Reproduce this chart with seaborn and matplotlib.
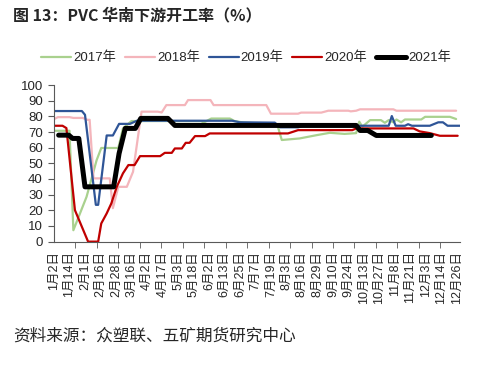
import numpy as np
import pandas as pd
import matplotlib
matplotlib.use("Agg")
import matplotlib.pyplot as plt
import seaborn as sns

# x = weeks since 2 Jan
tick_labels = ["1月2日", "1月14日", "2月1日", "2月16日", "2月28日", "3月16日", "4月2日",
               "4月17日", "5月3日", "5月18日", "6月2日", "6月13日", "6月25日", "7月7日",
               "7月19日", "8月3日", "8月16日", "8月29日", "9月10日", "9月24日", "10月13日",
               "10月27日", "11月8日", "11月21日", "12月3日", "12月14日", "12月26日"]

x_2017 = [0, 2.0, 2.5, 4.2, 5.5, 6.1, 8.3, 8.9, 10.0, 19.0, 19.3, 20.3, 22.7, 23.3, 24.5, 28.8,
          29.4, 31.7, 33.9, 35.6, 37.5, 39.0, 39.4, 39.8, 40.8, 42.2, 42.7, 43.2, 43.8, 44.2,
          44.8, 45.3, 47.4, 47.9, 51.1, 51.9]
y_2017 = [70.8, 70.8, 7.3, 28.6, 52.0, 59.8, 59.8, 72.3, 77.0, 77.0, 76.0, 78.6, 78.6, 77.0, 76.0, 75.0,
          64.9, 65.9, 68.0, 69.5, 68.8, 69.3, 76.6, 73.4, 77.6, 77.6, 75.9, 77.6, 76.2, 78.0,
          76.2, 78.0, 78.0, 79.7, 79.7, 78.3]

x_2018 = [0, 0.5, 2.0, 2.5, 3.7, 4.3, 4.6, 5.1, 7.2, 7.6, 8.3, 9.4, 10.2, 11.3, 13.4, 13.9, 14.5,
          16.9, 17.3, 20.2, 20.6, 27.4, 28.0, 31.5, 31.9, 34.5, 35.4, 38.0, 38.3, 39.0, 39.5,
          43.8, 44.2, 51.9]
y_2018 = [78.2, 79.5, 79.5, 79.0, 79.0, 77.8, 77.8, 40.4, 40.4, 21.4, 35.0, 35.0, 44.6, 83.0, 83.0, 82.5, 87.2,
          87.2, 90.4, 90.4, 87.2, 87.2, 81.7, 81.7, 82.4, 82.4, 83.6, 83.6, 83.2, 83.6, 84.5,
          84.5, 83.6, 83.6]

x_2019 = [0, 3.6, 4.0, 5.4, 5.7, 6.8, 7.6, 8.4, 9.8, 10.7, 23.0, 24.0, 28.5, 29.2, 31.5, 32.2,
          43.2, 43.6, 44.1, 45.3, 45.7, 46.2, 48.5, 49.6, 50.2, 50.8, 52.4]
y_2019 = [83.4, 83.4, 81.0, 23.5, 23.5, 67.8, 67.8, 75.2, 75.2, 77.2, 77.2, 76.2, 76.0, 73.0, 73.0, 74.0,
          74.0, 80.2, 74.0, 74.0, 75.0, 74.0, 74.0, 76.2, 76.2, 74.0, 74.0]

x_2020 = [0, 1.1, 1.6, 2.7, 4.4, 5.7, 6.1, 6.8, 7.4, 8.1, 8.9, 9.6, 10.4, 11.1, 13.7, 14.3, 15.2,
          15.6, 16.5, 17.0, 17.5, 18.2, 19.5, 20.1, 30.2, 31.5, 38.5, 39.0, 46.4, 47.2, 48.5,
          49.8, 52.1]
y_2020 = [74.0, 74.0, 72.5, 20.1, 0.0, 0.0, 11.6, 18.0, 24.4, 35.0, 43.6, 48.9, 48.9, 54.6, 54.6, 56.7, 56.7,
          59.5, 59.5, 63.1, 63.1, 67.4, 67.4, 69.1, 69.1, 71.2, 71.2, 72.3, 72.3, 70.4, 69.3,
          67.6, 67.6]

x_2021 = [0.6, 1.9, 2.4, 3.2, 4.0, 7.7, 8.4, 9.2, 10.5, 11.2, 14.7, 15.6, 39.0, 39.5, 40.5, 41.6, 48.7]
y_2021 = [68.0, 68.0, 65.9, 65.9, 35.0, 35.0, 56.3, 72.3, 72.3, 78.7, 78.7, 74.2, 74.2, 71.0, 71.0, 67.8, 67.8]

years = ["2017年", "2018年", "2019年", "2020年", "2021年"]
series = [(x_2017, y_2017), (x_2018, y_2018), (x_2019, y_2019), (x_2020, y_2020), (x_2021, y_2021)]
colors = ["#A9D18E", "#F4B5BB", "#2F5597", "#C00000", "#000000"]
widths = [1.6, 1.6, 1.6, 1.6, 3.6]

df = pd.concat([pd.DataFrame({"week": x, "rate": y, "year": yr})
                for yr, (x, y) in zip(years, series)], ignore_index=True)

sns.set_style("ticks")
plt.rcParams["font.family"] = ["Liberation Sans", "Noto Sans CJK SC"]

fig = plt.figure(figsize=(4.8, 3.65), dpi=100)
ax = fig.add_axes([0.1125, 0.338, 0.8458, 0.429])

for yr, c, lw in zip(years, colors, widths):
    sns.lineplot(data=df[df["year"] == yr], x="week", y="rate", color=c, linewidth=lw,
                 estimator=None, sort=False, label=yr, ax=ax)

ax.set_xlim(0, 52.4)
ax.set_ylim(0, 100)
ax.set_yticks(range(0, 101, 10))
ax.set_xticks(np.arange(0, 53, 2))
ax.set_xticklabels(tick_labels, rotation=90, fontsize=9)
ax.set_xticks(np.arange(0, 50, 2.77), minor=True)
ax.tick_params(axis="x", which="major", length=0, pad=7)
ax.tick_params(axis="x", which="minor", length=4, color="#595959", direction="out")
ax.tick_params(axis="y", length=4, color="#595959", labelsize=9.5, pad=4)
ax.set_xlabel("")
ax.set_ylabel("")
sns.despine(ax=ax)
for s in ["left", "bottom"]:
    ax.spines[s].set_color("#595959")

ax.legend(loc="center", bbox_to_anchor=(246 / 480, 1 - 58 / 365), bbox_transform=fig.transFigure,
          ncol=5, frameon=False, fontsize=9.5, handlelength=2.27, handletextpad=0.15,
          columnspacing=0.68, borderaxespad=0)

fig.text(0.027, 1 - 15 / 365, "图 13：PVC 华南下游开工率（%）", fontsize=11.5, fontweight="bold",
         family=["Noto Sans CJK SC"], va="center", ha="left")
fig.text(0.027, 1 - 336 / 365, "资料来源：众塑联、五矿期货研究中心", fontsize=12,
         family=["Noto Sans CJK SC"], va="center", ha="left")

fig.savefig("out.png", dpi=100)
